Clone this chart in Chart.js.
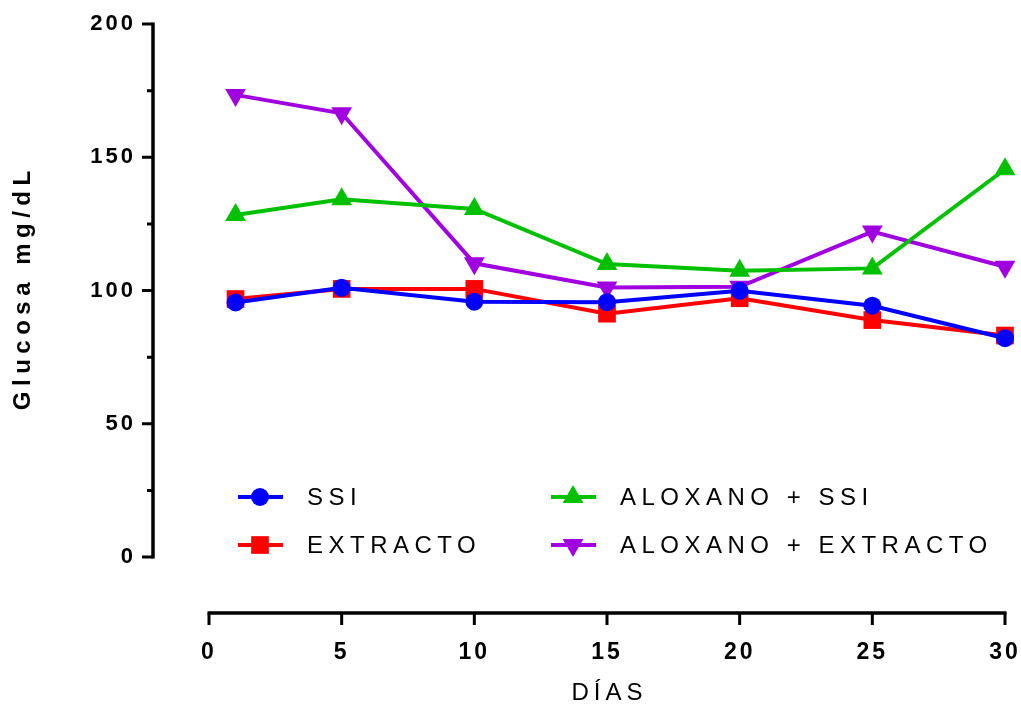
<!DOCTYPE html>
<html lang="es">
<head>
<meta charset="utf-8">
<title>Glucosa mg/dL</title>
<script src="https://cdn.jsdelivr.net/npm/chart.js@4.4.1/dist/chart.umd.min.js"></script>
<style>
  html, body { margin: 0; background: #fff; }
  #wrap { width: 1021px; height: 706px; }
</style>
</head>
<body>
<div id="wrap"><canvas id="glucosaChart"></canvas></div>
<script>
// días de muestreo y glucosa media por grupo
const dias = [1, 5, 10, 15, 20, 25, 30];
const ssi = [95.5, 101.0, 95.8, 95.6, 99.9, 94.3, 82.1];
const extracto = [96.8, 100.6, 100.6, 91.3, 97.1, 88.9, 83.1];
const aloxanoSsi = [128.3, 134.2, 130.6, 109.9, 107.4, 108.3, 145.5];
const aloxanoExtracto = [173.4, 166.5, 110.2, 101.1, 101.4, 122.1, 108.9];

const xTicks = [0, 5, 10, 15, 20, 25, 30];
const yTicks = [0, 25, 50, 75, 100, 125, 150, 175, 200];
const yLabels = [0, 50, 100, 150, 200];

const FONT = "'Liberation Sans', Arial, Helvetica, sans-serif";
const AXIS_GAP = 56;   // ejes separados del área de datos

const toPoints = vals => vals.map((v, i) => ({ x: dias[i], y: v }));

function serie(label, vals, color, pointStyle, radius, rotation) {
  return {
    label,
    data: toPoints(vals),
    borderColor: color,
    backgroundColor: color,
    borderWidth: 4,
    pointStyle,
    pointRadius: radius,
    pointHoverRadius: radius,
    pointRotation: rotation || 0,
    pointBorderWidth: 0,
    tension: 0,
    clip: false
  };
}

const datasets = [
  serie('SSI', ssi, '#0000ff', 'circle', 9),
  serie('EXTRACTO', extracto, '#ff0000', 'rect', 12.5),
  serie('ALOXANO + SSI', aloxanoSsi, '#00c000', 'triangle', 12),
  serie('ALOXANO + EXTRACTO', aloxanoExtracto, '#a000e0', 'triangle', 12, 180)
];

function spacedText(ctx, text, x, y, font, spacing, angle) {
  ctx.save();
  ctx.translate(x, y);
  ctx.rotate(angle || 0);
  ctx.font = font;
  ctx.letterSpacing = spacing + 'px';
  ctx.textAlign = 'center';
  ctx.textBaseline = 'middle';
  ctx.fillStyle = '#000';
  // el espaciado final desplaza el centro; se compensa
  ctx.fillText(text, spacing / 2, 0);
  ctx.restore();
}

// ejes tipo Prism: desplazados, con marcas menores en Y
const offsetAxes = {
  id: 'offsetAxes',
  beforeDraw(chart) {
    chart.ctx.letterSpacing = '3px';
  },
  afterDraw(chart) {
    const { ctx, chartArea, scales: { x, y } } = chart;
    const axisX = chartArea.left - AXIS_GAP;
    const axisY = chartArea.bottom + AXIS_GAP;
    const yVals = y.ticks.map(t => t.value);
    const xVals = x.ticks.map(t => t.value);

    ctx.save();
    ctx.strokeStyle = '#000';
    ctx.lineCap = 'butt';

    ctx.lineWidth = 3.5;
    ctx.beginPath();
    ctx.moveTo(axisX, y.getPixelForValue(yVals[0]) + 1.5);
    ctx.lineTo(axisX, y.getPixelForValue(yVals[yVals.length - 1]) - 1.5);
    ctx.moveTo(x.getPixelForValue(xVals[0]) - 1.5, axisY);
    ctx.lineTo(x.getPixelForValue(xVals[xVals.length - 1]) + 1.5, axisY);
    ctx.stroke();

    ctx.lineWidth = 3;
    ctx.beginPath();
    yVals.forEach(v => {
      const py = y.getPixelForValue(v);
      const len = yLabels.includes(v) ? 11 : 6;
      ctx.moveTo(axisX, py);
      ctx.lineTo(axisX - len, py);
    });
    xVals.forEach(v => {
      const px = x.getPixelForValue(v);
      ctx.moveTo(px, axisY);
      ctx.lineTo(px, axisY + 12);
    });
    ctx.stroke();
    ctx.restore();

    // títulos de los ejes
    const midX = (x.getPixelForValue(xVals[0]) + x.getPixelForValue(xVals[xVals.length - 1])) / 2;
    const midY = (y.getPixelForValue(yVals[0]) + y.getPixelForValue(yVals[yVals.length - 1])) / 2;
    spacedText(ctx, 'DÍAS', midX, 693, '24px ' + FONT, 5);
    spacedText(ctx, 'Glucosa mg/dL', 23, midY, 'bold 24px ' + FONT, 5.5, -Math.PI / 2);
  }
};

// leyenda en dos columnas dentro del gráfico
const legendSlots = [[238, 497], [238, 545], [551, 497], [551, 545]];

const sampleLegend = {
  id: 'sampleLegend',
  afterDraw(chart) {
    const ctx = chart.ctx;
    ctx.save();
    ctx.letterSpacing = '5.5px';
    ctx.font = '24px ' + FONT;
    ctx.textBaseline = 'middle';
    ctx.textAlign = 'left';
    chart.data.datasets.forEach((ds, i) => {
      const [lx, ly] = legendSlots[i];
      ctx.strokeStyle = ds.borderColor;
      ctx.fillStyle = ds.backgroundColor;
      ctx.lineWidth = ds.borderWidth;
      ctx.beginPath();
      ctx.moveTo(lx, ly);
      ctx.lineTo(lx + 45, ly);
      ctx.stroke();
      Chart.helpers.drawPoint(ctx, {
        pointStyle: ds.pointStyle,
        radius: ds.pointRadius,
        rotation: ds.pointRotation,
        borderWidth: 0
      }, lx + 22, ly);
      ctx.fillStyle = '#000';
      ctx.fillText(ds.label, lx + 69, ly + 1);
    });
    ctx.restore();
  }
};

// las marcas de escala sólo reservan sitio; los ejes se dibujan aparte
const hiddenGrid = len => ({
  display: true,
  drawOnChartArea: false,
  drawTicks: true,
  tickLength: len,
  color: 'rgba(0,0,0,0)'
});

new Chart(document.getElementById('glucosaChart'), {
  type: 'line',
  data: { datasets },
  plugins: [offsetAxes, sampleLegend],
  options: {
    responsive: true,
    maintainAspectRatio: false,
    animation: false,
    layout: { padding: { top: 24, right: 16, left: 0, bottom: 0 } },
    plugins: {
      legend: { display: false },
      tooltip: { enabled: false }
    },
    scales: {
      x: {
        type: 'linear',
        min: 0,
        max: 30,
        grid: hiddenGrid(82),
        border: { display: false },
        afterBuildTicks: s => { s.ticks = xTicks.map(v => ({ value: v })); },
        afterFit: s => { s.height = 149; },
        ticks: {
          autoSkip: false,
          maxRotation: 0,
          padding: 0,
          color: '#000',
          font: { family: FONT, size: 23, weight: 'bold' }
        }
      },
      y: {
        type: 'linear',
        min: 0,
        max: 200,
        grid: hiddenGrid(73),
        border: { display: false },
        afterBuildTicks: s => { s.ticks = yTicks.map(v => ({ value: v })); },
        afterFit: s => { s.width = 209; },
        ticks: {
          autoSkip: false,
          padding: 0,
          color: '#000',
          font: { family: FONT, size: 22, weight: 'bold' },
          callback: v => (yLabels.includes(v) ? String(v) : '')
        }
      }
    }
  }
});
</script>
</body>
</html>
